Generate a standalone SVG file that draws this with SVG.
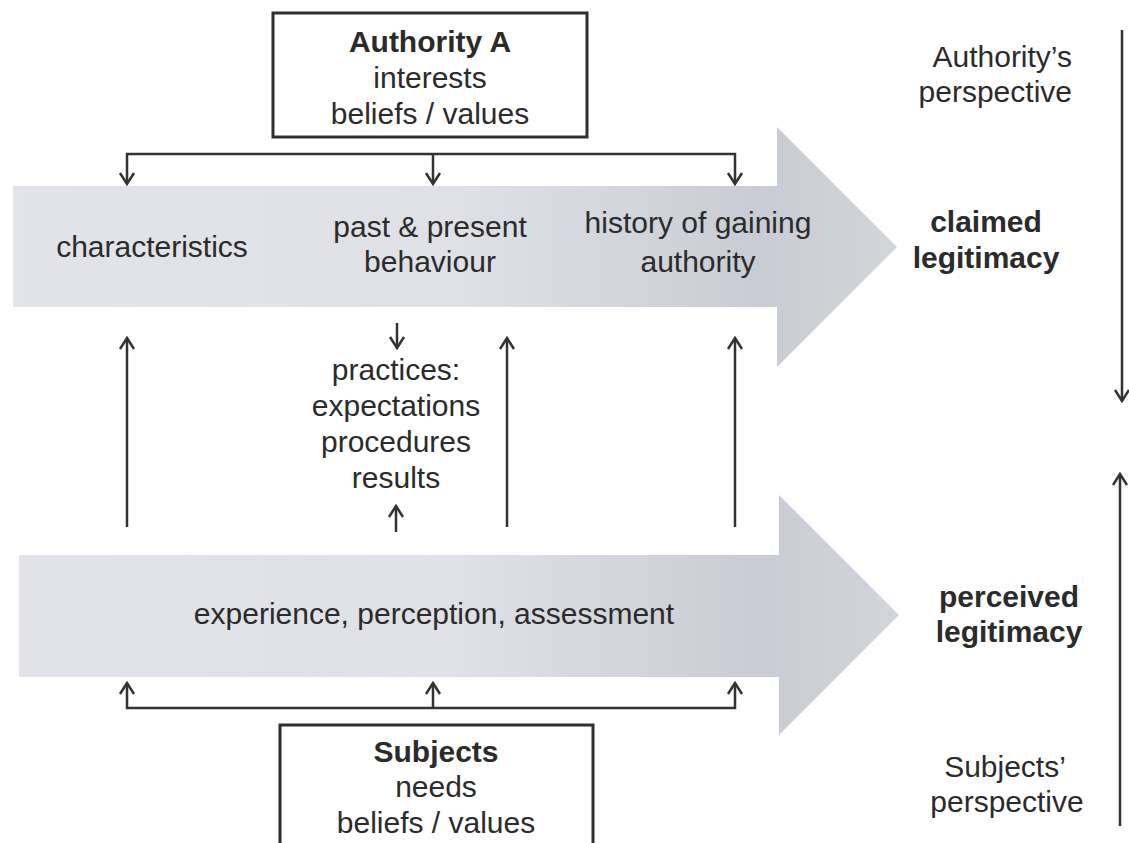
<svg xmlns="http://www.w3.org/2000/svg" width="1129" height="843" viewBox="0 0 1129 843">
<style>
text{font-family:"Liberation Sans",Arial,sans-serif;font-size:30px;fill:#2b2b2b;text-anchor:middle}
.b{font-weight:bold}
.box{fill:#fff;stroke:#2f2f2f;stroke-width:3}
.ln{fill:none;stroke:#333;stroke-width:2.5}
.big{fill:url(#g)}
</style>
<defs>
<linearGradient id="g" gradientUnits="userSpaceOnUse" x1="13" y1="0" x2="899" y2="0">
<stop offset="0" stop-color="#e2e4e9"/>
<stop offset="0.5" stop-color="#dfe1e6"/>
<stop offset="0.84" stop-color="#c9ccd4"/>
<stop offset="1" stop-color="#d3d5db"/>
</linearGradient>
<marker id="ah" viewBox="-14 -9 16 18" refX="0" refY="0" markerWidth="16" markerHeight="18" markerUnits="userSpaceOnUse" orient="auto">
<path d="M-11,-7 L0,0 L-11,7" fill="none" stroke="#333" stroke-width="2.5"/>
</marker>
</defs>
<g id="claimed-arrow">
<polygon class="big" points="13,186 777,186 777,127 897,247 777,367 777,307 13,307"/>
<text x="152" y="257">characteristics</text>
<text x="430" y="237">past &amp; present</text>
<text x="430" y="272">behaviour</text>
<text x="698" y="233">history of gaining</text>
<text x="698" y="272">authority</text>
</g>
<g id="perceived-arrow">
<polygon class="big" points="19,555 779,555 779,495 899,615 779,735 779,677 19,677"/>
<text x="434" y="624">experience, perception, assessment</text>
</g>
<g id="authority">
<rect class="box" x="273" y="13" width="314" height="124"/>
<text class="b" x="430" y="52">Authority A</text>
<text x="430" y="88">interests</text>
<text x="430" y="124">beliefs / values</text>
</g>
<g id="subjects">
<rect class="box" x="280" y="725" width="313" height="140"/>
<text class="b" x="436" y="762">Subjects</text>
<text x="436" y="797">needs</text>
<text x="436" y="833">beliefs / values</text>
</g>
<g id="practices">
<text x="396" y="380">practices:</text>
<text x="396" y="416">expectations</text>
<text x="396" y="452">procedures</text>
<text x="396" y="488">results</text>
</g>
<g id="claimed-legitimacy">
<text class="b" x="986" y="232">claimed</text>
<text class="b" x="986" y="268">legitimacy</text>
</g>
<g id="perceived-legitimacy">
<text class="b" x="1009" y="607">perceived</text>
<text class="b" x="1009" y="642">legitimacy</text>
</g>
<g id="authority-perspective">
<text x="1072" y="67" style="text-anchor:end">Authority’s</text>
<text x="1072" y="102" style="text-anchor:end">perspective</text>
</g>
<g id="subjects-perspective">
<text x="1005" y="777">Subjects’</text>
<text x="1007" y="812">perspective</text>
</g>
<g id="connectors" class="ln">
<path class="ln" d="M433,154 H127 V184" marker-end="url(#ah)"/>
<path class="ln" d="M433,154 H735 V184" marker-end="url(#ah)"/>
<path class="ln" d="M433,154 V184" marker-end="url(#ah)"/>
<path class="ln" d="M127,527 V338" marker-end="url(#ah)"/>
<path class="ln" d="M507,527 V338" marker-end="url(#ah)"/>
<path class="ln" d="M735,527 V338" marker-end="url(#ah)"/>
<path class="ln" d="M397,323 V348" marker-end="url(#ah)"/>
<path class="ln" d="M396,532 V506" marker-end="url(#ah)"/>
<path class="ln" d="M433,708 H127 V683" marker-end="url(#ah)"/>
<path class="ln" d="M433,708 H735 V683" marker-end="url(#ah)"/>
<path class="ln" d="M433,708 V683" marker-end="url(#ah)"/>
<path class="ln" d="M1122,30 V401" marker-end="url(#ah)"/>
<path class="ln" d="M1120,826 V474" marker-end="url(#ah)"/>
</g>
</svg>
